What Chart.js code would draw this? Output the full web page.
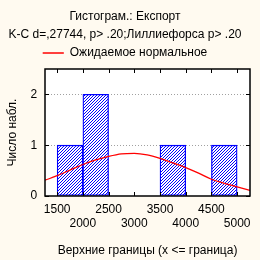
<!DOCTYPE html>
<html>
<head>
<meta charset="utf-8">
<script src="https://cdn.jsdelivr.net/npm/chart.js@4"></script>
<style>
  html, body { margin: 0; padding: 0; background: #fffaf0; }
  #wrap { width: 260px; height: 260px; }
</style>
</head>
<body>
<div id="wrap"><canvas id="myChart" width="260" height="260"></canvas></div>
<script>
//* DATA *//
let binCenters = [1750, 2250, 3750, 4750];
let binCounts = [1, 2, 1, 1];
let curveX = [1265, 1500, 1750, 2000, 2250, 2500, 2750, 3000, 3250, 3500, 3750, 4000, 4250, 4500, 4750, 5000, 5250];
let curveY = [0.31, 0.40, 0.51, 0.62, 0.71, 0.78, 0.83, 0.84, 0.81, 0.74, 0.65, 0.56, 0.45, 0.33, 0.25, 0.18, 0.11];
let xTicks = [1500, 2000, 2500, 3000, 3500, 4000, 4500, 5000];
let yTicks = [0, 1, 2];

let fontFam = '"Liberation Sans", Arial, sans-serif';

//* HATCH PATTERN *//
function makeHatch() {
  let c = document.createElement('canvas');
  c.width = 3;
  c.height = 3;
  let g = c.getContext('2d');
  g.fillStyle = '#ffffff';
  g.fillRect(0, 0, 3, 3);
  g.fillStyle = '#0000ff';
  for (let x = 0; x < 3; x++) {
    for (let y = 0; y < 3; y++) {
      if ((x + y) % 3 === 2) g.fillRect(x, y, 1, 1);
    }
  }
  return g.createPattern(c, 'repeat');
}

//* FRAME + INSIDE TICKS PLUGIN *//
let framePlugin = {
  id: 'frame',
  beforeDraw(chart) {
    let a = chart.chartArea;
    let ctx = chart.ctx;
    ctx.save();
    ctx.fillStyle = '#ffffff';
    ctx.fillRect(a.left, a.top, a.right - a.left, a.bottom - a.top);
    ctx.restore();
  },
  afterDraw(chart) {
    let a = chart.chartArea;
    let ctx = chart.ctx;
    let xs = chart.scales.x;
    let ys = chart.scales.y;
    ctx.save();
    ctx.strokeStyle = '#000000';
    ctx.lineWidth = 1;
    ctx.beginPath();
    for (let i = 0; i < xTicks.length; i++) {
      let px = Math.round(xs.getPixelForValue(xTicks[i])) + 0.5;
      ctx.moveTo(px, a.bottom);
      ctx.lineTo(px, a.bottom - 4);
      ctx.moveTo(px, a.top);
      ctx.lineTo(px, a.top + 4);
    }
    for (let i = 0; i < yTicks.length; i++) {
      let py = Math.round(ys.getPixelForValue(yTicks[i])) + 0.5;
      ctx.moveTo(a.left, py);
      ctx.lineTo(a.left + 4, py);
      ctx.moveTo(a.right, py);
      ctx.lineTo(a.right - 4, py);
    }
    ctx.stroke();
    ctx.lineWidth = 1.5;
    ctx.strokeRect(Math.round(a.left), Math.round(a.top), Math.round(a.right - a.left), Math.round(a.bottom - a.top));
    ctx.restore();
  }
};

let ctx = document.getElementById('myChart');

let barPoints = [];
for (let i = 0; i < binCenters.length; i++) {
  barPoints.push({ x: binCenters[i], y: binCounts[i] });
}
let curvePoints = [];
for (let i = 0; i < curveX.length; i++) {
  curvePoints.push({ x: curveX[i], y: curveY[i] });
}

let chartObj = {
  type: 'bar',
  data: {
    datasets: [
      {
        type: 'line',
        label: 'Ожидаемое нормальное',
        data: curvePoints,
        borderColor: '#ff0000',
        backgroundColor: '#ff0000',
        borderWidth: 1.3,
        pointRadius: 0,
        cubicInterpolationMode: 'monotone',
        order: 1
      },
      {
        label: 'hist',
        data: barPoints,
        backgroundColor: makeHatch(),
        borderColor: '#0000ff',
        borderWidth: 1.3,
        borderSkipped: false,
        barPercentage: 1,
        categoryPercentage: 1,
        order: 2
      }
    ]
  },
  options: {
    responsive: false,
    animation: false,
    layout: { padding: { top: 4, right: 10, left: 0, bottom: 2 } },
    plugins: {
      tooltip: { enabled: false },
      title: {
        display: true,
        text: ['Гистограм.: Експорт', 'K-C d=,27744, p> .20;Лиллиефорса p> .20'],
        color: '#000000',
        font: { family: fontFam, size: 12, weight: 'normal', lineHeight: 1.5 },
        padding: { top: 4, bottom: 0 }
      },
      legend: {
        display: true,
        labels: {
          color: '#000000',
          font: { family: fontFam, size: 12 },
          boxWidth: 21,
          boxHeight: 0,
          padding: 3,
          generateLabels: function(chart) {
            let items = Chart.defaults.plugins.legend.labels.generateLabels(chart);
            items = items.filter(function(item) { return item.text !== 'hist'; });
            items.forEach(function(item) { item.lineWidth = 1; });
            return items;
          }
        }
      }
    },
    scales: {
      x: {
        type: 'linear',
        offset: false,
        min: 1265,
        max: 5250,
        afterBuildTicks: function(axis) {
          axis.ticks = xTicks.map(function(v) { return { value: v }; });
        },
        grid: { display: false, drawTicks: false, offset: false },
        border: { display: false },
        ticks: {
          color: '#000000',
          font: { family: fontFam, size: 12, lineHeight: 1.15 },
          padding: 7,
          maxRotation: 0,
          autoSkip: false,
          callback: function(value) {
            let idx = xTicks.indexOf(value);
            return idx % 2 === 0 ? [String(value), ''] : ['', String(value)];
          }
        },
        title: {
          display: true,
          text: 'Верхние границы (x <= граница)',
          color: '#000000',
          font: { family: fontFam, size: 12 },
          padding: { top: 6, bottom: 0 }
        }
      },
      y: {
        min: 0,
        max: 2.5,
        afterBuildTicks: function(axis) {
          axis.ticks = yTicks.map(function(v) { return { value: v }; });
        },
        grid: {
          drawTicks: false,
          color: function(c) { return c.tick && c.tick.value === 0 ? 'rgba(0,0,0,0)' : '#a0a0a0'; },
          lineWidth: 1
        },
        border: { display: false, dash: [1, 2] },
        ticks: {
          color: '#000000',
          font: { family: fontFam, size: 12 },
          padding: 8
        },
        title: {
          display: true,
          text: 'Число набл.',
          color: '#000000',
          font: { family: fontFam, size: 12 },
          padding: { top: 5, bottom: 3 }
        }
      }
    }
  },
  plugins: [framePlugin]
};

new Chart(ctx, chartObj);
</script>
</body>
</html>
